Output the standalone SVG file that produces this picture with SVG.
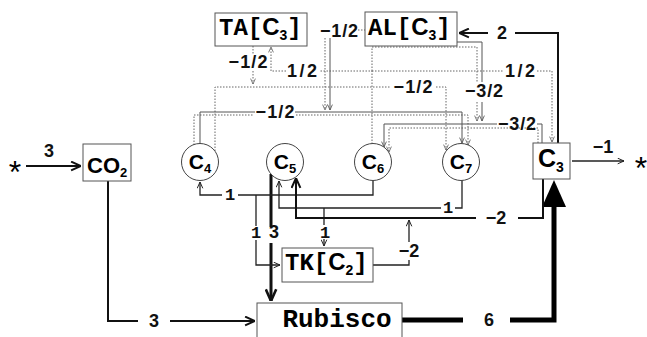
<svg xmlns="http://www.w3.org/2000/svg" width="647" height="337" viewBox="0 0 647 337">
<style>
.box{fill:#fff;stroke:#555;stroke-width:1}
.circ{fill:#fff;stroke:#444;stroke-width:1}
.dot{fill:none;stroke:#666;stroke-width:1;stroke-dasharray:1.5 1.5}
.gs{fill:none;stroke:#555;stroke-width:1}
.thin{fill:none;stroke:#222;stroke-width:1.3}
.med{fill:none;stroke:#111;stroke-width:2}
.thick{fill:none;stroke:#111;stroke-width:3}
.heavy{fill:none;stroke:#000;stroke-width:5}
.lbl{font-family:"Liberation Sans",Arial,sans-serif;font-weight:bold;font-size:18px;fill:#111;text-anchor:middle}
.one{font-family:"Liberation Mono","Courier New",monospace;font-weight:bold;font-size:17px;fill:#111;text-anchor:middle}
.mono{font-family:"Liberation Mono","Courier New",monospace;font-weight:bold;fill:#000}
.sans{font-family:"Liberation Sans",Arial,sans-serif;font-weight:bold;fill:#000}
.star{font-family:"Liberation Sans",Arial,sans-serif;font-size:32px;fill:#000;text-anchor:middle}
</style>
<defs>
<marker id="a1" viewBox="0 0 10 10" refX="10" refY="5" markerWidth="7" markerHeight="7" markerUnits="userSpaceOnUse" orient="auto"><path d="M1,1 L10,5 L1,9" fill="none" stroke="#222" stroke-width="1.4"/></marker>
<marker id="a2" viewBox="0 0 10 10" refX="10" refY="5" markerWidth="11" markerHeight="11" markerUnits="userSpaceOnUse" orient="auto"><path d="M1,1 L10,5 L1,9" fill="none" stroke="#111" stroke-width="1.8"/></marker>
<marker id="a3" viewBox="0 0 10 10" refX="10" refY="5" markerWidth="13" markerHeight="13" markerUnits="userSpaceOnUse" orient="auto"><path d="M1,1 L10,5 L1,9" fill="none" stroke="#111" stroke-width="2"/></marker>
<marker id="ad" viewBox="0 0 10 10" refX="10" refY="5" markerWidth="6" markerHeight="6" markerUnits="userSpaceOnUse" orient="auto"><path d="M1,1 L10,5 L1,9" fill="none" stroke="#666" stroke-width="1.4"/></marker>
<marker id="ag" viewBox="0 0 10 10" refX="10" refY="5" markerWidth="6" markerHeight="6" markerUnits="userSpaceOnUse" orient="auto"><path d="M1,1 L10,5 L1,9" fill="none" stroke="#555" stroke-width="1.4"/></marker>
<marker id="big" viewBox="0 0 27 24" refX="0" refY="12" markerWidth="27" markerHeight="24" markerUnits="userSpaceOnUse" orient="auto"><path d="M0,0 L27,12 L0,24 Z" fill="#000"/></marker>
</defs>

<g id="connectors">
  <path class="med" d="M26,166 H81" marker-end="url(#a2)"/>
  <path class="med" d="M108,181 V321 H138 M170,321 H255" marker-end="url(#a2)"/>
  <path class="heavy" d="M402,320 H463 M510,320 H554 V207" marker-end="url(#big)"/>
  <path class="med" d="M558,143 V33 H515 M488,33 H459" marker-end="url(#a2)"/>
  <path class="thin" d="M572,161 H624" marker-end="url(#a1)"/>
  <path class="thick" d="M271,174 V227 M271,243 V301" marker-end="url(#a3)"/>
  <path class="thin" d="M373,180 V195 H238 M222,195 H200 V182" marker-end="url(#a1)"/>
  <path class="thin" d="M256,195 V226 M256,240 V265 H280" marker-end="url(#a1)"/>
  <path class="thin" d="M462,180 V208 H455 M441,208 H279 V181" marker-end="url(#a1)"/>
  <path class="thin" d="M324,208 V225 M324,239 V246" marker-end="url(#a1)"/>
  <path class="med" d="M543,179 V218 H518 M476,218 H296 V178" marker-end="url(#a2)"/>
  <path class="thin" d="M373,265 H409 V260 M409,242 V220" marker-end="url(#a1)"/>
  <path class="dot" d="M215,151 V87 H390 M436,87 H446 V150" marker-end="url(#ad)"/>
  <path class="dot" d="M253,46 V54 M253,71 V84" marker-end="url(#ad)"/>
  <path class="dot" d="M372,144 V71 H320 M286,71 H271 V47" marker-end="url(#ad)"/>
  <path class="dot" d="M372,71 H503 M537,71 H552 V142" marker-end="url(#ad)"/>
  <path class="dot" d="M372,71 V47 H477 V82 M477,102 V121" marker-end="url(#ad)"/>
  <path class="dot" d="M358,30 H365"/>
  <path class="dot" d="M325,38 V110" marker-end="url(#ad)"/>
  <path class="dot" d="M194,145 V115 H254 M296,115 H468 V145" marker-end="url(#ad)"/>
  <path class="dot" d="M538,143 V128 H389 V152" marker-end="url(#ad)"/>
  <path class="gs" d="M200,144 V112 H255 M295,112 H462 V143" marker-end="url(#ag)"/>
  <path class="gs" d="M330,38 V110" marker-end="url(#ag)"/>
  <path class="gs" d="M457,42 H482 V82 M482,102 V121" marker-end="url(#ag)"/>
  <path class="gs" d="M542,143 V124 H537 M497,124 H384 V147" marker-end="url(#ag)"/>

  <text class="lbl" x="49" y="157" font-size="15">3</text>
  <text class="lbl" x="154" y="327">3</text>
  <text class="lbl" x="489" y="326">6</text>
  <text class="lbl" x="502" y="39">2</text>
  <text class="lbl" x="603" y="153">−1</text>
  <text class="lbl" x="274" y="238">3</text>
  <text class="one" x="230" y="200">1</text>
  <text class="one" x="256" y="238">1</text>
  <text class="one" x="325" y="238">1</text>
  <text class="one" x="448" y="213">1</text>
  <text class="lbl" x="496" y="224">−2</text>
  <text class="lbl" x="409" y="257">−2</text>
  <text class="lbl" x="248" y="68" textLength="39">−1/2</text>
  <text class="lbl" x="339" y="37" textLength="38">−1/2</text>
  <text class="lbl" x="413" y="93" textLength="39">−1/2</text>
  <text class="lbl" x="275" y="118" textLength="39">−1/2</text>
  <text class="lbl" x="302" y="77" textLength="30">1/2</text>
  <text class="lbl" x="520" y="77" textLength="30">1/2</text>
  <text class="lbl" x="484" y="97" textLength="38">−3/2</text>
  <text class="lbl" x="517" y="130" textLength="38">−3/2</text>
</g>

<g id="star-in"><text class="star" x="15" y="183">*</text></g>
<g id="star-out"><text class="star" x="641" y="179">*</text></g>

<g id="CO2">
  <rect class="box" x="83" y="144" width="48" height="37"/>
  <text class="sans" x="87" y="173" font-size="22">CO<tspan font-size="13" dy="4">2</tspan></text>
</g>
<g id="TA">
  <rect class="box" x="215" y="13" width="92" height="33"/>
  <text class="mono" x="219" y="35" font-size="24">TA[<tspan class="sans">C</tspan><tspan class="sans" font-size="14" dy="5">3</tspan><tspan dy="-5">]</tspan></text>
</g>
<g id="AL">
  <rect class="box" x="365" y="12" width="92" height="34"/>
  <text class="mono" x="368" y="35" font-size="24">AL[<tspan class="sans">C</tspan><tspan class="sans" font-size="14" dy="5">3</tspan><tspan dy="-5">]</tspan></text>
</g>
<g id="C4">
  <circle class="circ" cx="200" cy="162" r="18.5"/>
  <text class="sans" x="200" y="169" font-size="21" text-anchor="middle">C<tspan font-size="13" dy="4">4</tspan></text>
</g>
<g id="C5">
  <circle class="circ" cx="285" cy="162" r="18.5"/>
  <text class="sans" x="285" y="169" font-size="21" text-anchor="middle">C<tspan font-size="13" dy="4">5</tspan></text>
</g>
<g id="C6">
  <circle class="circ" cx="373" cy="162" r="18.5"/>
  <text class="sans" x="373" y="169" font-size="21" text-anchor="middle">C<tspan font-size="13" dy="4">6</tspan></text>
</g>
<g id="C7">
  <circle class="circ" cx="461" cy="162" r="18.5"/>
  <text class="sans" x="461" y="169" font-size="21" text-anchor="middle">C<tspan font-size="13" dy="4">7</tspan></text>
</g>
<g id="C3">
  <rect class="box" x="533" y="143" width="37" height="36"/>
  <text class="sans" x="538" y="167" font-size="25">C<tspan font-size="14" dy="5">3</tspan></text>
</g>
<g id="TK">
  <rect class="box" x="282" y="248" width="91" height="34"/>
  <text class="mono" x="285" y="270" font-size="24">TK[<tspan class="sans">C</tspan><tspan class="sans" font-size="14" dy="5">2</tspan><tspan dy="-5">]</tspan></text>
</g>
<g id="Rubisco">
  <rect class="box" x="257" y="303" width="145" height="40"/>
  <text class="mono" x="337" y="327" font-size="26" text-anchor="middle">Rubisco</text>
</g>
</svg>
